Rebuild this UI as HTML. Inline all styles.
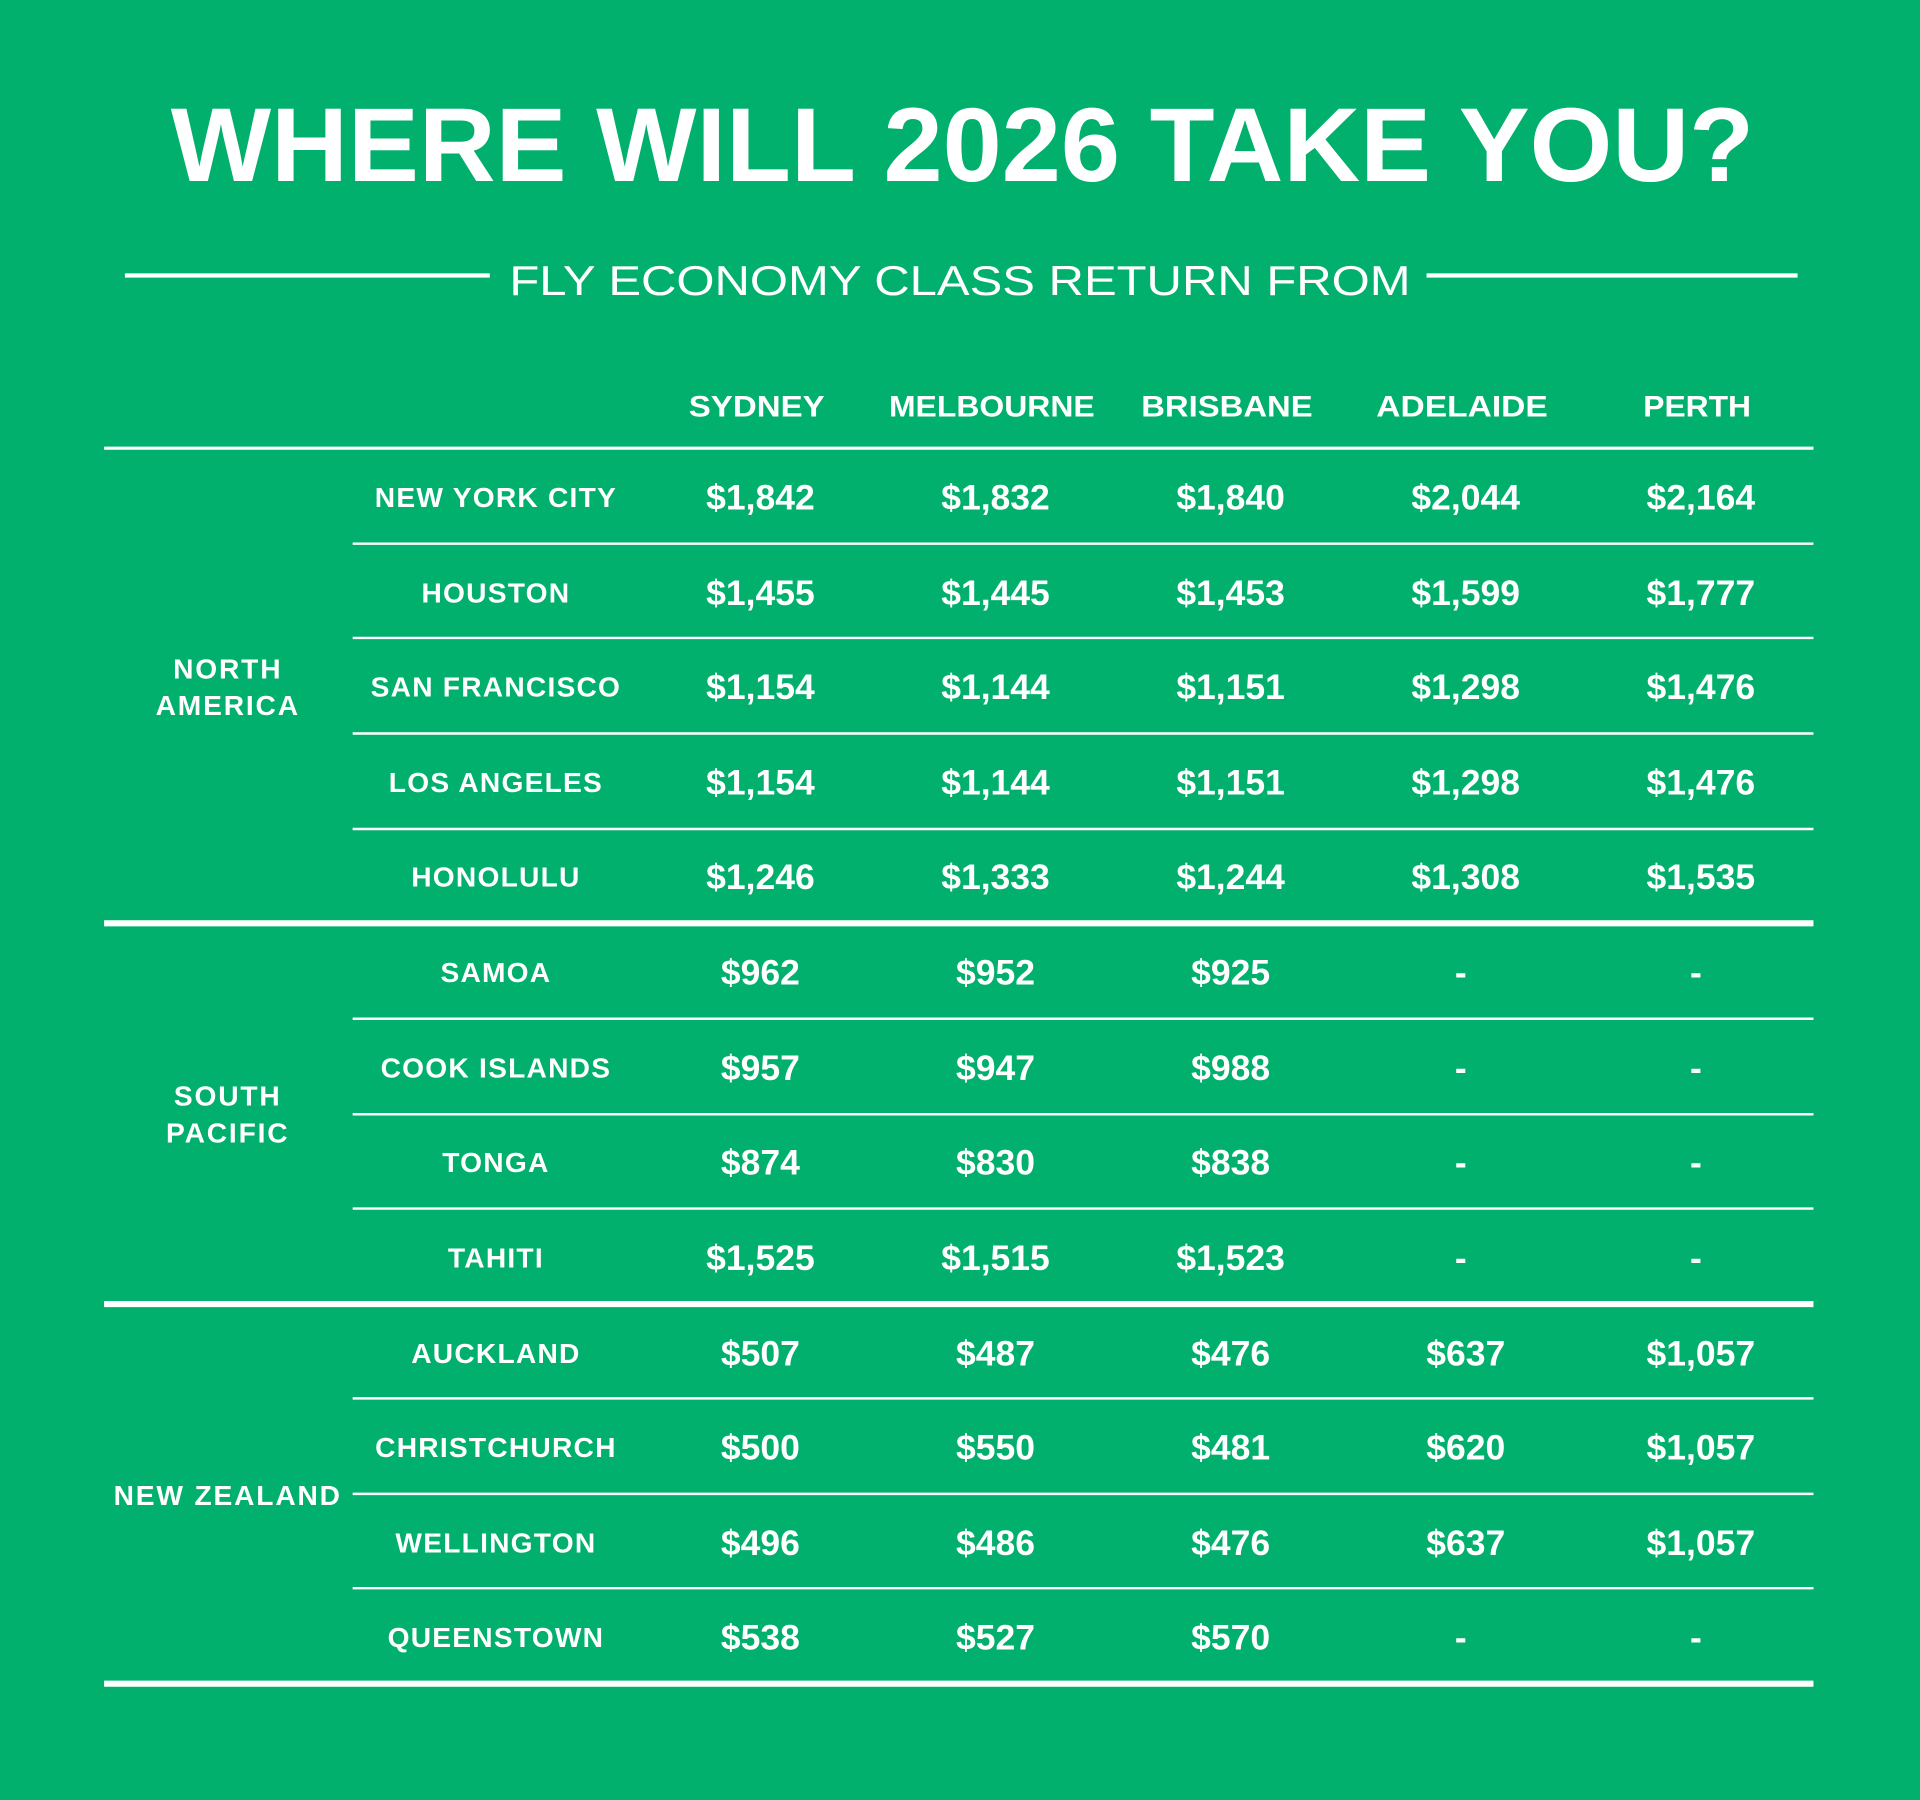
<!DOCTYPE html>
<html><head><meta charset="utf-8"><style>
html,body{margin:0;padding:0;background:#00b06c;}
svg{display:block;}
text{font-family:"Liberation Sans",Arial,sans-serif;fill:#fff;font-weight:bold;}
</style></head><body>
<svg width="1920" height="1800" viewBox="0 0 1568 1470" xmlns="http://www.w3.org/2000/svg">
<rect width="1568" height="1470" fill="#00b06c"/>
<text x="786" y="148" font-size="86" text-anchor="middle" textLength="1293" lengthAdjust="spacingAndGlyphs">WHERE WILL 2026 TAKE YOU?</text>
<line x1="102" y1="225" x2="400" y2="225" stroke="#fff" stroke-width="3.5"/>
<line x1="1165" y1="225" x2="1468" y2="225" stroke="#fff" stroke-width="3.5"/>
<text x="784" y="241" font-size="34" text-anchor="middle" textLength="736" lengthAdjust="spacingAndGlyphs" style="font-weight:normal">FLY ECONOMY CLASS RETURN FROM</text>
<g font-size="24" text-anchor="middle">
<text x="618" y="340" textLength="111" lengthAdjust="spacingAndGlyphs">SYDNEY</text>
<text x="810" y="340" textLength="168" lengthAdjust="spacingAndGlyphs">MELBOURNE</text>
<text x="1002" y="340" textLength="140" lengthAdjust="spacingAndGlyphs">BRISBANE</text>
<text x="1194" y="340" textLength="140" lengthAdjust="spacingAndGlyphs">ADELAIDE</text>
<text x="1386" y="340" textLength="88" lengthAdjust="spacingAndGlyphs">PERTH</text>
</g>
<g stroke="#fff">
<line x1="85" y1="366" x2="1481" y2="366" stroke-width="2.5"/>
<line x1="288" y1="444" x2="1481" y2="444" stroke-width="2"/>
<line x1="288" y1="521" x2="1481" y2="521" stroke-width="2"/>
<line x1="288" y1="599" x2="1481" y2="599" stroke-width="2"/>
<line x1="288" y1="677" x2="1481" y2="677" stroke-width="2"/>
<line x1="85" y1="754" x2="1481" y2="754" stroke-width="5"/>
<line x1="288" y1="832" x2="1481" y2="832" stroke-width="2"/>
<line x1="288" y1="910" x2="1481" y2="910" stroke-width="2"/>
<line x1="288" y1="987" x2="1481" y2="987" stroke-width="2"/>
<line x1="85" y1="1065" x2="1481" y2="1065" stroke-width="5"/>
<line x1="288" y1="1142" x2="1481" y2="1142" stroke-width="2"/>
<line x1="288" y1="1220" x2="1481" y2="1220" stroke-width="2"/>
<line x1="288" y1="1297" x2="1481" y2="1297" stroke-width="2"/>
<line x1="85" y1="1375" x2="1481" y2="1375" stroke-width="5"/>
</g>
<g font-size="23" text-anchor="middle" letter-spacing="1.5">
<text x="186" y="554">NORTH</text><text x="186" y="584">AMERICA</text>
<text x="186" y="903">SOUTH</text><text x="186" y="933">PACIFIC</text>
<text x="186" y="1229">NEW ZEALAND</text>
</g>
<g font-size="23" text-anchor="middle" letter-spacing="1">
<text x="405" y="414">NEW YORK CITY</text>
<text x="405" y="492">HOUSTON</text>
<text x="405" y="569">SAN FRANCISCO</text>
<text x="405" y="647">LOS ANGELES</text>
<text x="405" y="724">HONOLULU</text>
<text x="405" y="802">SAMOA</text>
<text x="405" y="880">COOK ISLANDS</text>
<text x="405" y="957">TONGA</text>
<text x="405" y="1035">TAHITI</text>
<text x="405" y="1113">AUCKLAND</text>
<text x="405" y="1190">CHRISTCHURCH</text>
<text x="405" y="1268">WELLINGTON</text>
<text x="405" y="1345">QUEENSTOWN</text>
</g>
<g font-size="29" text-anchor="middle">
<g transform="translate(0,416)"><text x="621">$1,842</text><text x="813">$1,832</text><text x="1005">$1,840</text><text x="1197">$2,044</text><text x="1389">$2,164</text></g>
<g transform="translate(0,494)"><text x="621">$1,455</text><text x="813">$1,445</text><text x="1005">$1,453</text><text x="1197">$1,599</text><text x="1389">$1,777</text></g>
<g transform="translate(0,571)"><text x="621">$1,154</text><text x="813">$1,144</text><text x="1005">$1,151</text><text x="1197">$1,298</text><text x="1389">$1,476</text></g>
<g transform="translate(0,649)"><text x="621">$1,154</text><text x="813">$1,144</text><text x="1005">$1,151</text><text x="1197">$1,298</text><text x="1389">$1,476</text></g>
<g transform="translate(0,726)"><text x="621">$1,246</text><text x="813">$1,333</text><text x="1005">$1,244</text><text x="1197">$1,308</text><text x="1389">$1,535</text></g>
<g transform="translate(0,804)"><text x="621">$962</text><text x="813">$952</text><text x="1005">$925</text><text x="1193">-</text><text x="1385">-</text></g>
<g transform="translate(0,882)"><text x="621">$957</text><text x="813">$947</text><text x="1005">$988</text><text x="1193">-</text><text x="1385">-</text></g>
<g transform="translate(0,959)"><text x="621">$874</text><text x="813">$830</text><text x="1005">$838</text><text x="1193">-</text><text x="1385">-</text></g>
<g transform="translate(0,1037)"><text x="621">$1,525</text><text x="813">$1,515</text><text x="1005">$1,523</text><text x="1193">-</text><text x="1385">-</text></g>
<g transform="translate(0,1115)"><text x="621">$507</text><text x="813">$487</text><text x="1005">$476</text><text x="1197">$637</text><text x="1389">$1,057</text></g>
<g transform="translate(0,1192)"><text x="621">$500</text><text x="813">$550</text><text x="1005">$481</text><text x="1197">$620</text><text x="1389">$1,057</text></g>
<g transform="translate(0,1270)"><text x="621">$496</text><text x="813">$486</text><text x="1005">$476</text><text x="1197">$637</text><text x="1389">$1,057</text></g>
<g transform="translate(0,1347)"><text x="621">$538</text><text x="813">$527</text><text x="1005">$570</text><text x="1193">-</text><text x="1385">-</text></g>
</g>
</svg>
</body></html>
